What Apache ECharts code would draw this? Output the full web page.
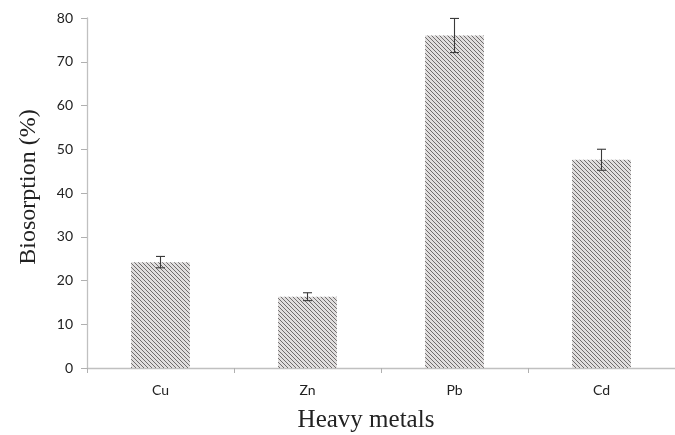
<!DOCTYPE html>
<html><head><meta charset="utf-8">
<script src="https://cdn.jsdelivr.net/npm/echarts@6/dist/echarts.min.js"></script>
<style>html,body{margin:0;padding:0;background:#fff;overflow:hidden}#c{width:675px;height:435px}</style>
</head><body><div id="c"></div>
<script>
const categories = ['Cu', 'Zn', 'Pb', 'Cd'];
const values = [24.2, 16.3, 76.0, 47.6];
const errors = [1.3, 0.9, 3.9, 2.4];
const yTitle = 'Biosorption (%)';
const xTitle = 'Heavy metals';

function hatch() {
  const s = 4;
  const c = document.createElement('canvas');
  c.width = s; c.height = s;
  const g = c.getContext('2d');
  g.fillStyle = '#e0dede';
  g.fillRect(0, 0, s, s);
  g.strokeStyle = '#6f6c6c';
  g.lineWidth = 1.0;
  g.beginPath();
  for (let k = -1; k <= 1; k++) {
    g.moveTo(-1, -1 + k * s);
    g.lineTo(s + 1, s + 1 + k * s);
  }
  g.stroke();
  return c;
}

const chart = echarts.init(document.getElementById('c'));
chart.setOption({
  animation: false,
  grid: { left: 87, right: -12, top: 18, bottom: 67 },
  xAxis: {
    type: 'category',
    data: categories,
    axisLine: { lineStyle: { color: '#c0c0c0', width: 1.3 } },
    axisTick: { show: true, length: 5, lineStyle: { color: '#b0b0b0' } },
    axisLabel: { fontFamily: 'Lato', fontSize: 14, color: '#222', margin: 15 }
  },
  yAxis: {
    type: 'value',
    min: 0, max: 80, interval: 10,
    axisLine: { show: true, lineStyle: { color: '#c0c0c0', width: 1.3 } },
    axisTick: { show: true, length: 6, lineStyle: { color: '#b0b0b0' } },
    splitLine: { show: false },
    axisLabel: { fontFamily: 'Lato', fontSize: 14, color: '#222', margin: 14 }
  },
  graphic: [
    {
      type: 'text', x: 366, y: 420,
      style: { text: xTitle, font: '25px "Liberation Serif"', fill: '#222', align: 'center', verticalAlign: 'middle' }
    },
    {
      type: 'text', x: 29, y: 187, rotation: Math.PI / 2,
      style: { text: yTitle, font: '24px "Liberation Serif"', fill: '#222', align: 'center', verticalAlign: 'middle' }
    }
  ],
  series: [
    {
      type: 'bar',
      data: values,
      barWidth: '40%',
      itemStyle: { color: { image: hatch(), repeat: 'repeat' } }
    },
    {
      type: 'custom',
      data: values.map((v, i) => [i, v - errors[i], v + errors[i]]),
      renderItem: function (params, api) {
        const x = api.value(0);
        const lo = api.coord([x, api.value(1)]);
        const hi = api.coord([x, api.value(2)]);
        const w = 4.5;
        const st = { stroke: '#3a3a3a', lineWidth: 1.1 };
        return {
          type: 'group',
          children: [
            { type: 'line', shape: { x1: lo[0], y1: lo[1], x2: hi[0], y2: hi[1] }, style: st },
            { type: 'line', shape: { x1: lo[0] - w, y1: lo[1], x2: lo[0] + w, y2: lo[1] }, style: st },
            { type: 'line', shape: { x1: hi[0] - w, y1: hi[1], x2: hi[0] + w, y2: hi[1] }, style: st }
          ]
        };
      },
      z: 10
    }
  ]
});
</script>
</body></html>
